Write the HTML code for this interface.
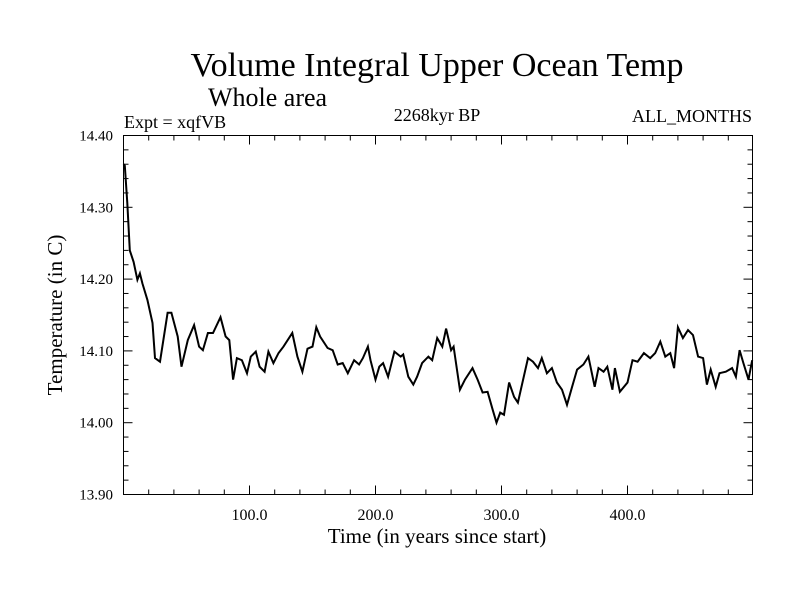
<!DOCTYPE html>
<html><head><meta charset="utf-8"><style>
body{margin:0;background:#fff;width:800px;height:600px;overflow:hidden}
svg text{font-family:"Liberation Serif",serif;fill:#000}
</style></head><body>
<svg id="chart" width="800" height="600">
<text x="437" y="76" font-size="34" text-anchor="middle">Volume Integral Upper Ocean Temp</text>
<text x="208" y="106" font-size="26">Whole area</text>
<text x="124" y="128" font-size="18">Expt = xqfVB</text>
<text x="437" y="121" font-size="18" text-anchor="middle">2268kyr BP</text>
<text x="752" y="122" font-size="18" text-anchor="end">ALL_MONTHS</text>
<text x="437" y="543" font-size="21" text-anchor="middle">Time (in years since start)</text>
<text transform="translate(62,315) rotate(-90)" font-size="21" text-anchor="middle">Temperature (in C)</text>
<g id="axes"></g>
<path id="line" fill="none" stroke="#000" stroke-width="2"/>
<rect x="123.5" y="135.5" width="629" height="359" fill="none" stroke="#000" stroke-width="1"/>
</svg>
<script>
const years=[0,1,3,5,8,11,13,15,19,23,25,29,35,38,43,46,51,56,60,63,67,71,77,81,84,87,90,94,98,101,105,108,112,115,119,123,127,134,138,142,146,150,153,156,162,166,170,174,178,183,187,190,194,196,200,203,206,210,215,220,222,226,230,233,237,242,245,249,253,256,260,262,267,271,277,281,285,289,293,296,299,302,306,310,313,321,325,329,332,336,340,344,348,352,356,360,365,369,374,377,381,384,388,390,394,400,404,408,413,418,422,426,430,434,437,440,444,448,452,456,460,463,466,470,473,478,483,486,489,492,496,499];
const temps=[14.36,14.358,14.306,14.24,14.224,14.199,14.208,14.194,14.171,14.139,14.09,14.085,14.153,14.153,14.12,14.078,14.115,14.136,14.106,14.101,14.125,14.125,14.147,14.12,14.115,14.06,14.09,14.087,14.069,14.092,14.099,14.078,14.071,14.099,14.083,14.097,14.106,14.125,14.092,14.071,14.103,14.106,14.133,14.12,14.104,14.101,14.081,14.083,14.069,14.087,14.081,14.09,14.106,14.087,14.06,14.078,14.083,14.064,14.099,14.092,14.095,14.064,14.053,14.064,14.083,14.092,14.087,14.118,14.106,14.131,14.101,14.106,14.046,14.06,14.076,14.06,14.042,14.043,14.018,14.0,14.014,14.011,14.056,14.036,14.028,14.09,14.085,14.076,14.09,14.069,14.076,14.056,14.046,14.025,14.05,14.074,14.081,14.092,14.05,14.076,14.071,14.078,14.046,14.076,14.043,14.056,14.087,14.085,14.097,14.09,14.097,14.113,14.092,14.097,14.076,14.133,14.118,14.129,14.122,14.092,14.09,14.053,14.074,14.05,14.069,14.071,14.076,14.064,14.101,14.083,14.06,14.087];
const xTicks=[100,200,300,400];
const xTickLabels=["100.0","200.0","300.0","400.0"];
const yTicks=[13.9,14.0,14.1,14.2,14.3,14.4];
const yTickLabels=["13.90","14.00","14.10","14.20","14.30","14.40"];
const X=v=>123.5+(v-0)*1.26;
const Y=v=>135.5+(14.4-v)*718;
const NS="http://www.w3.org/2000/svg";
const ax=document.getElementById('axes');
function ln(x1,y1,x2,y2,name){const l=document.createElementNS(NS,'line');l.setAttribute('x1',x1);l.setAttribute('y1',y1);l.setAttribute('x2',x2);l.setAttribute('y2',y2);l.setAttribute('stroke','#000');


ax.appendChild(l);}
for(let v=20;v<500;v+=20){const maj=v%100===0;const L=maj?9:5;ln(X(v),494.5,X(v),494.5-L,'x-tick');ln(X(v),135.5,X(v),135.5+L,'x-tick-top');}
for(let i=0;i<=25;i++){const v=13.9+i*0.02;const maj=i%5===0;const L=maj?9:5;ln(123.5,Y(v),123.5+L,Y(v),'y-tick');ln(752.5,Y(v),752.5-L,Y(v),'y-tick-right');}
xTicks.forEach((v,i)=>{const t=document.createElementNS(NS,'text');t.setAttribute('x',X(v));t.setAttribute('y',520);t.setAttribute('font-size','16');t.setAttribute('text-anchor','middle');t.textContent=xTickLabels[i];


ax.appendChild(t);});
yTicks.forEach((v,i)=>{const t=document.createElementNS(NS,'text');t.setAttribute('x',113);t.setAttribute('y',Y(v)+5);t.setAttribute('font-size','15');t.setAttribute('text-anchor','end');t.textContent=yTickLabels[i];


ax.appendChild(t);});
document.getElementById('line').setAttribute('d',years.map((y,i)=>(i?'L':'M')+X(y).toFixed(1)+' '+Y(temps[i]).toFixed(1)).join(''));
</script>
</body></html>
